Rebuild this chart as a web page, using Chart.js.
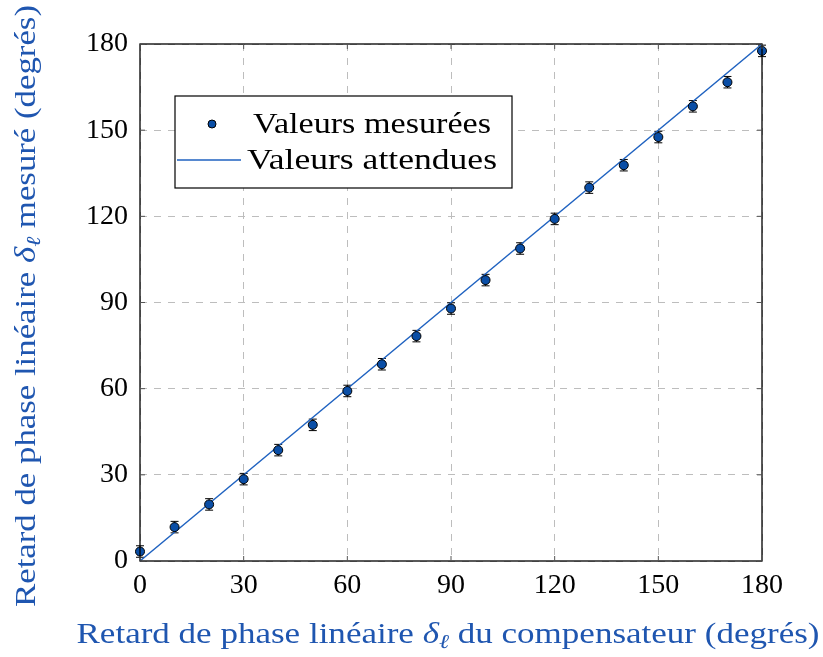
<!DOCTYPE html>
<html>
<head>
<meta charset="utf-8">
<script src="https://cdn.jsdelivr.net/npm/chart.js@4/dist/chart.umd.min.js"></script>
<style>
  html, body { margin: 0; padding: 0; background: #fff; }
  #wrap { width: 823px; height: 657px; }
</style>
</head>
<body>
<div id="wrap"><canvas id="phaseChart"></canvas></div>
<script>
// compensator retardance (deg) and measured retardance (deg)
const compensatorDeg = [0, 10, 20, 30, 40, 50, 60, 70, 80, 90, 100, 110, 120, 130, 140, 150, 160, 170, 180];
const measuredDeg = [3.3, 11.8, 19.7, 28.5, 38.6, 47.4, 59.2, 68.5, 78.3, 87.9, 97.8, 108.8, 119.1, 130.0, 137.8, 147.6, 158.3, 166.7, 177.6];
const measuredErr = [2, 2, 2, 2, 2, 2, 2, 2, 2, 2, 2, 2, 2, 2, 2, 2, 2, 2, 2];
const expectedX = [0, 180];
const expectedY = [0, 180];
const tickValues = [0, 30, 60, 90, 120, 150, 180];

const SERIF = '"Liberation Serif", "DejaVu Serif", serif';
const BLUE_TEXT = '#1f56b0';
const MARK_FILL = '#0a4ea6';
const LINE_COL = '#1f62c0';

// draws a run of [text, font, dy] pieces stretched to a target width, centred on 0
function drawRuns(ctx, runs, target) {
  let total = 0;
  runs.forEach(r => { ctx.font = r[1]; r.w = ctx.measureText(r[0]).width; total += r.w; });
  const k = target / total;
  ctx.save();
  ctx.scale(k, 1);
  let sx = -total / 2;
  runs.forEach(r => { ctx.font = r[1]; ctx.fillText(r[0], sx, r[2]); sx += r.w; });
  ctx.restore();
}

const decorations = {
  id: 'decorations',
  beforeDatasetsDraw(chart) {
    const { ctx, scales: { x, y } } = chart;
    ctx.save();
    ctx.strokeStyle = '#000';
    ctx.lineWidth = 1;
    compensatorDeg.forEach((v, i) => {
      const px = x.getPixelForValue(v);
      const y1 = y.getPixelForValue(measuredDeg[i] - measuredErr[i]);
      const y2 = y.getPixelForValue(measuredDeg[i] + measuredErr[i]);
      ctx.beginPath();
      ctx.moveTo(px, y1); ctx.lineTo(px, y2);
      ctx.moveTo(px - 4, y1); ctx.lineTo(px + 4, y1);
      ctx.moveTo(px - 4, y2); ctx.lineTo(px + 4, y2);
      ctx.stroke();
    });
    ctx.restore();
  },
  afterDraw(chart) {
    const { ctx, chartArea: a, scales: { x, y } } = chart;
    ctx.save();
    // frame
    ctx.strokeStyle = '#000';
    ctx.lineWidth = 1.3;
    ctx.strokeRect(a.left, a.top, a.right - a.left, a.bottom - a.top);
    // inward ticks on all sides
    ctx.lineWidth = 1;
    ctx.strokeStyle = '#555';
    tickValues.forEach(v => {
      const px = x.getPixelForValue(v);
      const py = y.getPixelForValue(v);
      ctx.beginPath();
      ctx.moveTo(px, a.bottom); ctx.lineTo(px, a.bottom - 5);
      ctx.moveTo(px, a.top); ctx.lineTo(px, a.top + 5);
      ctx.moveTo(a.left, py); ctx.lineTo(a.left + 5, py);
      ctx.moveTo(a.right, py); ctx.lineTo(a.right - 5, py);
      ctx.stroke();
    });

    // axis titles, italic delta with subscript ell
    const fN = '29px ' + SERIF, fI = 'italic 29px ' + SERIF, fS = 'italic 20px ' + SERIF;
    ctx.fillStyle = BLUE_TEXT;
    ctx.textBaseline = 'alphabetic';
    ctx.save();
    ctx.translate(448, 643);
    drawRuns(ctx, [['Retard de phase linéaire ', fN, 0], ['δ', fI, 0], ['ℓ', fS, 5], [' du compensateur (degrés)', fN, 0]], 743);
    ctx.restore();
    ctx.save();
    ctx.translate(35, 306);
    ctx.rotate(-Math.PI / 2);
    drawRuns(ctx, [['Retard de phase linéaire ', fN, 0], ['δ', fI, 0], ['ℓ', fS, 5], [' mesuré (degrés)', fN, 0]], 602);
    ctx.restore();

    // legend box
    const lx = a.left + 35, ly = a.top + 52, lw = 337, lh = 92;
    ctx.fillStyle = '#fff';
    ctx.fillRect(lx, ly, lw, lh);
    ctx.strokeStyle = '#000';
    ctx.lineWidth = 1.2;
    ctx.strokeRect(lx, ly, lw, lh);
    ctx.beginPath();
    ctx.arc(lx + 37, ly + 28, 4, 0, Math.PI * 2);
    ctx.fillStyle = MARK_FILL; ctx.fill();
    ctx.strokeStyle = '#000'; ctx.lineWidth = 1; ctx.stroke();
    ctx.beginPath();
    ctx.moveTo(lx + 2, ly + 64); ctx.lineTo(lx + 66, ly + 64);
    ctx.strokeStyle = LINE_COL; ctx.lineWidth = 1.5; ctx.stroke();
    ctx.fillStyle = '#000';
    ctx.save();
    ctx.translate(lx + 78 + 119, ly + 37);
    drawRuns(ctx, [['Valeurs mesurées', fN, 0]], 238);
    ctx.restore();
    ctx.save();
    ctx.translate(lx + 72 + 125, ly + 73);
    drawRuns(ctx, [['Valeurs attendues', fN, 0]], 250);
    ctx.restore();
    ctx.restore();
  }
};

const measuredPoints = compensatorDeg.map((v, i) => ({ x: v, y: measuredDeg[i] }));
const expectedPoints = expectedX.map((v, i) => ({ x: v, y: expectedY[i] }));

const tickFont = { family: SERIF, size: 28 };

new Chart(document.getElementById('phaseChart'), {
  type: 'scatter',
  data: {
    datasets: [
      {
        label: 'Valeurs attendues',
        data: expectedPoints,
        showLine: true,
        borderColor: LINE_COL,
        borderWidth: 1.5,
        pointRadius: 0,
        order: 2
      },
      {
        label: 'Valeurs mesurées',
        data: measuredPoints,
        showLine: false,
        pointRadius: 4.5,
        backgroundColor: MARK_FILL,
        borderColor: '#000',
        borderWidth: 1,
        order: 1
      }
    ]
  },
  plugins: [decorations],
  options: {
    responsive: true,
    maintainAspectRatio: false,
    animation: false,
    clip: false,
    layout: { padding: { top: 44, right: 61, left: 0, bottom: 0 } },
    plugins: {
      legend: { display: false },
      tooltip: { enabled: false }
    },
    scales: {
      x: {
        type: 'linear',
        min: 0,
        max: 180,
        afterBuildTicks: s => { s.ticks = tickValues.map(v => ({ value: v })); },
        afterFit: s => { s.height = 96; },
        grid: { color: '#bdbdbd', lineWidth: 1, drawTicks: false },
        border: { display: false, dash: [7, 7] },
        ticks: { color: '#000', font: tickFont, padding: 8, maxRotation: 0 }
      },
      y: {
        min: 0,
        max: 180,
        afterBuildTicks: s => { s.ticks = tickValues.map(v => ({ value: v })); },
        afterFit: s => { s.width = 140; },
        grid: { color: '#bdbdbd', lineWidth: 1, drawTicks: false },
        border: { display: false, dash: [7, 7] },
        ticks: { color: '#000', font: tickFont, padding: 12 }
      }
    }
  }
});
</script>
</body>
</html>
